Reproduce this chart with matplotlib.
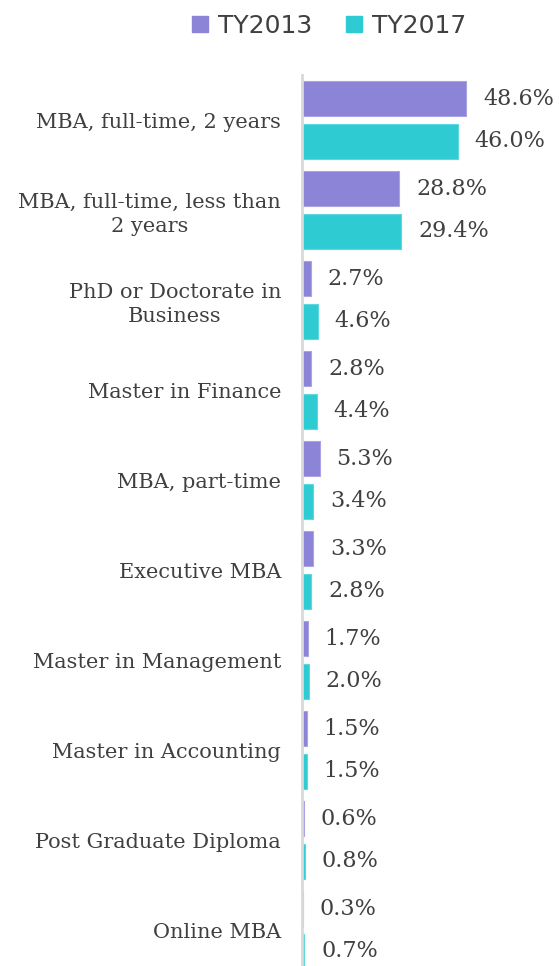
import matplotlib.pyplot as plt
import numpy as np

categories = ['MBA, full-time, 2 years', 'MBA, full-time, less than\n2 years',
              'PhD or Doctorate in\nBusiness', 'Master in Finance', 'MBA, part-time',
              'Executive MBA', 'Master in Management', 'Master in Accounting',
              'Post Graduate Diploma', 'Online MBA']
ty2013 = [48.6, 28.8, 2.7, 2.8, 5.3, 3.3, 1.7, 1.5, 0.6, 0.3]
ty2017 = [46.0, 29.4, 4.6, 4.4, 3.4, 2.8, 2.0, 1.5, 0.8, 0.7]

c13 = '#8b84d7'
c17 = '#2ecbd3'
txt = '#404040'

fig = plt.figure(figsize=(5.59, 9.66), dpi=100)
ax = fig.add_axes([302/559, 1 - 975/966, 257/559, 900/966])

y = np.arange(len(categories))
h = 0.39
b1 = ax.barh(y - 0.235, ty2013, height=h, color=c13, edgecolor='#a9a4e3', linewidth=0.8)
b2 = ax.barh(y + 0.235, ty2017, height=h, color=c17, edgecolor='#5cd8de', linewidth=0.8)

for bars, vals in ((b1, ty2013), (b2, ty2017)):
    for bar, v in zip(bars, vals):
        ax.annotate(f'{v:.1f}%', (bar.get_width(), bar.get_y() + bar.get_height() / 2),
                    xytext=(12, 0), textcoords='offset points', va='center', ha='left',
                    fontsize=16, family='DejaVu Serif', color=txt)

ax.set_xlim(0, 76)
ax.set_ylim(len(categories) - 0.5, -0.5)
ax.set_yticks(y)
ax.set_yticklabels(categories, fontsize=15, family='DejaVu Serif', color=txt)
for lab in ax.get_yticklabels():
    lab.set_multialignment('center')
    lab.set_linespacing(1.3)
ax.tick_params(axis='y', length=0, pad=15)
ax.set_xticks([])
for s in ['top', 'right', 'bottom']:
    ax.spines[s].set_visible(False)
ax.spines['left'].set_color('#d9d9d9')
ax.spines['left'].set_linewidth(2)

handles = [plt.Line2D([], [], marker='s', ls='', color=c13, markersize=11),
           plt.Line2D([], [], marker='s', ls='', color=c17, markersize=11)]
fig.legend(handles, ['TY2013', 'TY2017'], loc='center', bbox_to_anchor=(328/559, 1 - 26/966),
           ncol=2, frameon=False, fontsize=18, handlelength=0.8, handletextpad=0.3,
           columnspacing=1.3, labelcolor=txt)

plt.savefig('out.png')
